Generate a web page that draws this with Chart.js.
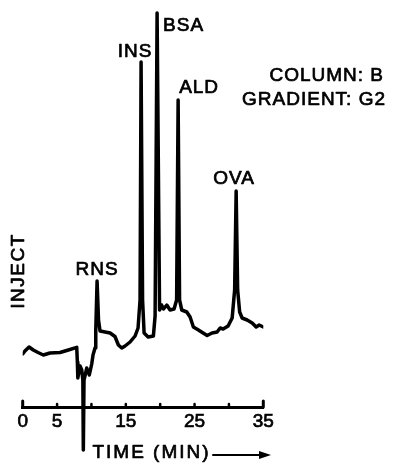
<!DOCTYPE html>
<html>
<head>
    <title>Chromatogram - Column B, Gradient G2</title>
    <script src="https://cdn.jsdelivr.net/npm/chart.js"></script>
    <style>
        body { margin: 0; background: #fff; }
        #chrom { display: block; }
    </style>
</head>
<body>
    <canvas id="chrom" width="414" height="465"></canvas>
    <script>
        // retention time (min) and detector signal (arbitrary units)
        const times = [0, 0.33, 0.92, 1.54, 2.23, 3.0, 3.97, 4.7, 5.43, 6.64, 7.86, 7.95, 8.02, 8.34, 8.59, 8.75, 8.82, 8.92,
            9.32, 9.69, 10.04, 10.23, 10.52, 10.63, 10.82, 11.03, 11.25, 11.98, 12.71, 13.42, 13.92, 14.41, 14.89,
            15.62, 16.35, 16.78, 17.07, 17.22, 17.44, 17.66, 18.24, 19.01, 19.26, 19.55, 19.91, 20.2, 20.49, 20.96,
            21.44, 22.02, 22.39, 22.61, 22.82, 23.14, 23.87, 24.35, 24.83, 25.56, 26.24, 26.83, 27.55, 28.28, 28.72,
            29.16, 29.88, 30.47, 30.83, 31.05, 31.27, 31.56, 31.92, 32.65, 33.38, 33.96, 34.4, 35.0];
        const signal = [53, 56, 60, 57, 54.5, 52, 54, 54.3, 54.5, 57, 59.7, 45, 29, 41, 37, 27, -43, 27,
            39, 32, 43, 52, 59, 77, 126, 87, 76, 75, 74, 70.5, 62, 59, 61,
            65, 71, 79, 107, 345, 107, 74, 70, 71, 91, 394, 97, 102, 98, 102,
            97, 98, 107, 307, 107, 97, 95, 90, 80, 77, 74, 71.5, 74, 75, 79,
            78, 81, 89, 117, 216, 117, 95, 89, 87, 84, 80, 82, 80];

        const peakNames = ['RNS', 'INS', 'BSA', 'ALD', 'OVA'];
        const peakTimes = [10.82, 17.22, 19.55, 22.61, 31.05];

        const tickStep = 5;
        const labelledTicks = [0, 5, 15, 25, 35];

        const FONT = "'Liberation Sans', Arial, sans-serif";
        const INK = '#000';
        const TEXT_STROKE = 0.7; // thickens the type a little, like the printed original

        // label placement next to each peak tip: dx, dy, align
        const peakLabelPos = {
            RNS: [0, -11, 'center'],
            INS: [-6, -10, 'center'],
            BSA: [6, 13, 'left'],
            ALD: [1, -12, 'left'],
            OVA: [-2, -12, 'center']
        };

        function label(ctx, text, x, y) {
            ctx.fillText(text, x, y);
            ctx.strokeText(text, x, y);
        }

        const annotations = {
            id: 'annotations',
            afterDraw(chart) {
                const ctx = chart.ctx;
                const xs = chart.scales.x;
                const ys = chart.scales.y;
                const axisY = ys.getPixelForValue(0);
                ctx.save();
                ctx.fillStyle = INK;
                ctx.strokeStyle = INK;
                ctx.lineCap = 'round';

                // small upward tick marks on the time axis
                xs.ticks.forEach((t, i) => {
                    const px = xs.getPixelForValue(t.value);
                    const end = (i === 0 || i === xs.ticks.length - 1);
                    ctx.lineWidth = end ? 3 : 2.5;
                    ctx.beginPath();
                    ctx.moveTo(px, axisY);
                    ctx.lineTo(px, axisY - (end ? 6 : 3));
                    ctx.stroke();
                });

                ctx.font = '19px ' + FONT;
                ctx.letterSpacing = '1px';
                ctx.textBaseline = 'middle';
                ctx.lineWidth = TEXT_STROKE;
                ctx.lineJoin = 'round';

                // peak names
                peakNames.forEach((name, i) => {
                    const idx = times.indexOf(peakTimes[i]);
                    const px = xs.getPixelForValue(times[idx]);
                    const py = ys.getPixelForValue(signal[idx]);
                    const [dx, dy, align] = peakLabelPos[name];
                    ctx.textAlign = align;
                    label(ctx, name, px + dx, py + dy);
                });

                // run conditions
                ctx.textAlign = 'right';
                label(ctx, 'COLUMN: B', 384, 76);
                label(ctx, 'GRADIENT: G2', 386, 100);

                // axis caption with arrow
                ctx.textAlign = 'left';
                ctx.letterSpacing = '2px';
                label(ctx, 'TIME (MIN)', xs.getPixelForValue(10) + 1, 453);
                ctx.lineWidth = 2;
                ctx.beginPath();
                ctx.moveTo(213, 455);
                ctx.lineTo(262, 455);
                ctx.stroke();
                ctx.beginPath();
                ctx.moveTo(271, 455);
                ctx.lineTo(259, 451);
                ctx.lineTo(259, 459);
                ctx.closePath();
                ctx.fill();

                // inject label
                ctx.lineWidth = TEXT_STROKE;
                ctx.letterSpacing = '1.5px';
                ctx.translate(19, 271);
                ctx.rotate(-Math.PI / 2);
                ctx.textAlign = 'center';
                label(ctx, 'INJECT', 0, 0);
                ctx.restore();
            }
        };

        const ctx = document.getElementById('chrom').getContext('2d');
        const chromChart = new Chart(ctx, {
            type: 'line',
            data: {
                datasets: [{
                    label: 'Detector signal',
                    data: times.map((t, i) => ({ x: t, y: signal[i] })),
                    borderColor: INK,
                    borderWidth: 3.5,
                    borderJoinStyle: 'round',
                    borderCapStyle: 'round',
                    pointRadius: 0,
                    tension: 0,
                    fill: false
                }]
            },
            options: {
                responsive: false,
                animation: false,
                layout: { padding: { left: 22.7, right: 150.7, top: 0, bottom: 13 } },
                plugins: {
                    legend: { display: false },
                    tooltip: { enabled: false }
                },
                scales: {
                    x: {
                        type: 'linear',
                        position: { y: 0 },
                        min: 0,
                        max: 35,
                        grid: { display: false, drawTicks: false },
                        border: { display: true, color: INK, width: 3 },
                        ticks: {
                            stepSize: tickStep,
                            padding: 3,
                            color: INK,
                            textStrokeColor: INK,
                            textStrokeWidth: TEXT_STROKE,
                            maxRotation: 0,
                            autoSkip: false,
                            font: { family: FONT, size: 19 },
                            callback: (v) => labelledTicks.includes(v) ? String(v) : ''
                        }
                    },
                    y: {
                        display: false,
                        min: -45,
                        max: 407
                    }
                }
            },
            plugins: [annotations]
        });
    </script>
</body>
</html>
